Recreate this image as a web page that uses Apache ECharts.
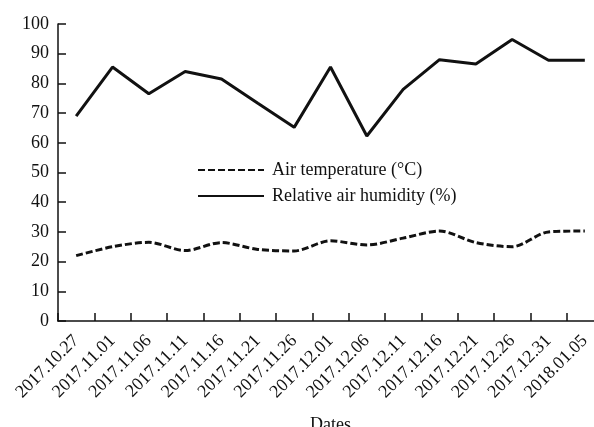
<!DOCTYPE html>
<html lang="en">
<head>
    <meta charset="UTF-8">
    <title>Air temperature and humidity</title>
    <script src="https://cdn.jsdelivr.net/npm/echarts@6/dist/echarts.min.js"></script>
    <style>
        html, body { margin: 0; padding: 0; background: #fff; }
        #main { width: 594px; height: 427px; }
    </style>
</head>
<body>
    <div id="main"></div>
    <script>
        // 日期（横轴）
        var dates = ['2017.10.27', '2017.11.01', '2017.11.06', '2017.11.11', '2017.11.16',
            '2017.11.21', '2017.11.26', '2017.12.01', '2017.12.06', '2017.12.11',
            '2017.12.16', '2017.12.21', '2017.12.26', '2017.12.31', '2018.01.05'];
        // 气温
        var airTemp = [22, 25, 26.5, 23.7, 26.4, 24.1, 23.6, 27, 25.6, 27.9, 30.3, 26.4, 25, 30, 30.3];
        // 相对湿度
        var humidity = [69, 85.5, 76.5, 84, 81.5, 73.3, 65.2, 85.5, 62.3, 78, 88, 86.5, 94.8, 87.8, 87.8];

        var serif = "'Liberation Serif', 'Times New Roman', serif";
        var myChart = echarts.init(document.getElementById('main'));

        var option = {
            animation: false,
            textStyle: { fontFamily: serif, color: '#111' },
            grid: { left: 58, top: 24, width: 545, height: 297, outerBoundsMode: 'none', containLabel: false },
            legend: {
                orient: 'vertical',
                left: 197,
                top: 161,
                padding: 0,
                itemWidth: 66,
                itemHeight: 14,
                itemGap: 8,
                itemStyle: { opacity: 0 },
                textStyle: { fontFamily: serif, fontSize: 18, color: '#111', padding: [0, 0, 0, 3] },
                data: ['Air temperature (°C)', 'Relative air humidity (%)']
            },
            xAxis: {
                type: 'category',
                boundaryGap: true,
                data: dates,
                name: 'Dates',
                nameLocation: 'middle',
                nameGap: 95,
                nameTextStyle: { fontFamily: serif, fontSize: 18, color: '#111' },
                axisLine: { lineStyle: { color: '#111', width: 1.5 } },
                axisTick: { show: true, interval: 0, inside: true, length: 8, lineStyle: { color: '#111', width: 1.5 } },
                axisLabel: { interval: 0, rotate: 45, margin: 17, fontSize: 18, color: '#111', fontFamily: serif },
                splitLine: { show: false }
            },
            yAxis: {
                type: 'value',
                min: 0,
                max: 100,
                interval: 10,
                axisLine: { show: true, lineStyle: { color: '#111', width: 1.5 } },
                axisTick: { show: true, inside: true, length: 8, lineStyle: { color: '#111', width: 1.5 } },
                axisLabel: { margin: 9, fontSize: 18, color: '#111', fontFamily: serif },
                splitLine: { show: false }
            },
            series: [
                {
                    name: 'Air temperature (°C)',
                    type: 'line',
                    symbol: 'none',
                    smooth: 0.3,
                    lineStyle: { color: '#111', width: 3, type: [7, 3] },
                    itemStyle: { color: '#111' },
                    data: airTemp
                },
                {
                    name: 'Relative air humidity (%)',
                    type: 'line',
                    symbol: 'none',
                    lineStyle: { color: '#111', width: 3 },
                    itemStyle: { color: '#111' },
                    data: humidity
                }
            ]
        };
        myChart.setOption(option);
    </script>
</body>
</html>
